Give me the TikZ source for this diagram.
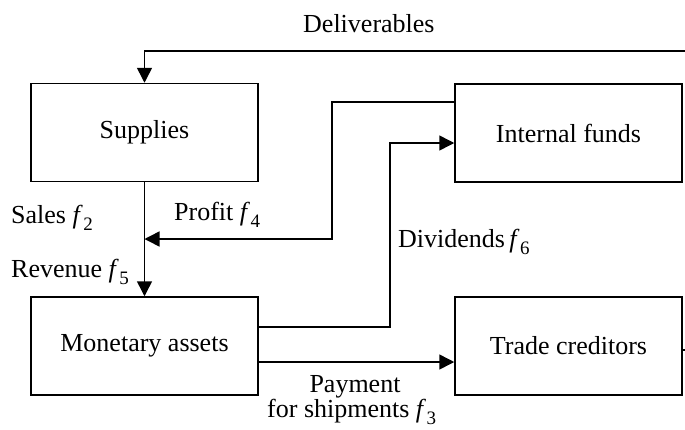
\documentclass[tikz,border=0pt]{standalone}
\usepackage{fontspec}
\setmainfont{Liberation Serif}
\usetikzlibrary{arrows.meta}
\newcommand\fvar[1]{\textit{f}\kern0.5pt\raisebox{-0.28em}{\fontsize{19}{19}\selectfont #1}}
\begin{document}
\begin{tikzpicture}[x=1pt,y=-1pt,
  every node/.style={font=\fontsize{26}{31}\selectfont},
  block/.style={draw,line width=1.5pt,minimum width=227pt,minimum height=98pt,inner sep=0pt},
  flow/.style={line width=1.5pt,-{Triangle[length=15pt,width=15pt]}},
  link/.style={line width=1.5pt},
  lbl/.style={inner sep=0pt}]
\useasboundingbox (0,0) rectangle (685,429);

% blocks
\node[block] (sup) at (144.5,132.5) {Supplies};
\node[block] (fund) at (568.5,133) {Internal funds};
\node[block] (mon) at (144.5,346) {Monetary assets};
\node[block] (cred) at (568.5,346) {Trade creditors};

% free ends at the right border
\coordinate (deliv) at (685,51);
\coordinate (credend) at (685,350);

% deliverables back into supplies
\draw[flow] (deliv) -- (sup.north |- deliv) -- (sup.north);
% sales / revenue
\draw[flow] (sup.south) -- (mon.north);
% profit from internal funds
\coordinate (pjoin) at (144.5,239);
\draw[flow] (fund.west |- 0,102) -- (332,102) -- (332,239) -- (pjoin);
% dividends
\draw[flow] (mon.east |- 0,327) -- (390,327) -- (390,143) -- (fund.west |- 0,143);
% payment for shipments
\draw[flow] (mon.east |- 0,362) -- (cred.west |- 0,362);
% stub leaving trade creditors
\draw[link] (cred.east |- credend) -- (credend);

% labels
\node[lbl,anchor=base west] (tdel) at (303,32) {Deliverables};
\node[lbl,anchor=base west] (tsal) at (11,223) {Sales \fvar{2}};
\node[lbl,anchor=base west] (tpro) at (174,220) {Profit \fvar{4}};
\node[lbl,anchor=base west] (trev) at (11,277) {Revenue \fvar{5}};
\node[lbl,anchor=base west] (tdiv) at (398,247) {Dividends\,\fvar{6}};
\node[lbl,anchor=base] (tpay) at (355,392) {Payment};
\node[lbl,anchor=base west] (tship) at (267,417) {for shipments \fvar{3}};
\end{tikzpicture}
\end{document}
